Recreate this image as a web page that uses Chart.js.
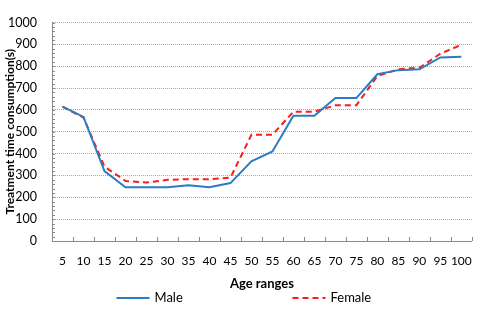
<!DOCTYPE html>
<html>
<head>
<meta charset="utf-8">
<script src="https://cdn.jsdelivr.net/npm/chart.js@4/dist/chart.umd.min.js"></script>
<style>
  html, body { margin: 0; padding: 0; background: #fff; }
  #wrap { width: 485px; height: 311px; }
</style>
</head>
<body>
<div id="wrap"><canvas id="myChart"></canvas></div>
<script>
var ageLabels = ['5','10','15','20','25','30','35','40','45','50','55','60','65','70','75','80','85','90','95','100'];
var maleValues = [615, 568, 320, 246, 246, 246, 255, 246, 265, 365, 410, 573, 573, 654, 654, 763, 782, 786, 840, 843];
var femaleValues = [615, 565, 340, 275, 268, 280, 283, 283, 290, 486, 486, 592, 592, 621, 621, 755, 786, 793, 857, 898];
var yTicks = [0, 100, 200, 300, 400, 500, 600, 700, 800, 900, 1000];

var FONT = "Lato, 'Liberation Sans', sans-serif";

// small inward ticks on the y axis (every 20) and x axis category ticks
var axisTicks = {
    id: 'axisTicks',
    afterDraw: function(chart) {
        var ctx = chart.ctx;
        var y = chart.scales.y, x = chart.scales.x;
        ctx.save();
        ctx.strokeStyle = '#8c8c8c';
        ctx.lineWidth = 1;
        ctx.beginPath();
        for (var v = 0; v <= 1000; v += 20) {
            var py = Math.round(y.getPixelForValue(v)) + 0.5;
            ctx.moveTo(x.left, py);
            ctx.lineTo(x.left + 3, py);
        }
        for (var i = 0; i <= ageLabels.length; i++) {
            var px = Math.round(x.getPixelForValue(i - 0.5)) + 0.5;
            ctx.moveTo(px, y.bottom);
            ctx.lineTo(px, y.bottom - 4);
        }
        ctx.stroke();
        ctx.restore();
    }
};

// legend drawn at the bottom, spread out like the original
var bottomLegend = {
    id: 'bottomLegend',
    afterDraw: function(chart) {
        var ctx = chart.ctx;
        var ly = chart.height - 13;
        var cx = chart.width / 2;
        var items = [
            { ds: chart.data.datasets[0], x: cx - 126 },
            { ds: chart.data.datasets[1], x: cx + 50 }
        ];
        ctx.save();
        ctx.font = '13px ' + FONT;
        ctx.textBaseline = 'middle';
        ctx.fillStyle = '#000';
        items.forEach(function(it) {
            ctx.strokeStyle = it.ds.borderColor;
            ctx.lineWidth = 2;
            ctx.setLineDash(it.ds.borderDash || []);
            ctx.beginPath();
            ctx.moveTo(it.x, ly);
            ctx.lineTo(it.x + 33, ly);
            ctx.stroke();
            ctx.fillText(it.ds.label, it.x + 38, ly);
        });
        ctx.restore();
    }
};

var ctx = document.getElementById('myChart').getContext('2d');
var chart = new Chart(ctx, {
    type: 'line',
    data: {
        labels: ageLabels,
        datasets: [{
            label: 'Male',
            data: maleValues,
            borderColor: '#2a7dc4',
            backgroundColor: '#2a7dc4',
            borderWidth: 2,
            pointRadius: 0,
            tension: 0
        }, {
            label: 'Female',
            data: femaleValues,
            borderColor: '#ff1a1a',
            backgroundColor: '#ff1a1a',
            borderWidth: 2,
            borderDash: [6, 4],
            pointRadius: 0,
            tension: 0
        }]
    },
    plugins: [axisTicks, bottomLegend],
    options: {
        responsive: true,
        maintainAspectRatio: false,
        animation: false,
        layout: { padding: { top: 4, right: 9, left: 0, bottom: 19 } },
        plugins: {
            legend: { display: false },
            tooltip: { enabled: false }
        },
        scales: {
            x: {
                offset: true,
                grid: { display: false, offset: true, drawTicks: false, tickLength: 0 },
                border: { color: '#8c8c8c', width: 1 },
                ticks: { color: '#000', font: { family: FONT, size: 12 }, padding: 13, maxRotation: 0, autoSkip: false },
                title: { display: true, text: 'Age ranges', color: '#000', font: { family: FONT, size: 13, weight: 'bold' }, padding: { top: -5, bottom: 0 } }
            },
            y: {
                min: 0,
                max: 1000,
                afterBuildTicks: function(scale) {
                    scale.ticks = yTicks.map(function(v) { return { value: v }; });
                },
                afterFit: function(scale) { scale.width = 52; },
                grid: { color: '#a6a6a6', tickLength: 0, drawTicks: false },
                border: { color: '#8c8c8c', width: 1, display: true, dash: [1, 1] },
                ticks: { color: '#000', font: { family: FONT, size: 12.5 }, padding: 15,
                    callback: function(v) { return String(v); } },
                title: { display: true, text: 'Treatment time consumption(s)', color: '#000', font: { family: FONT, size: 12, weight: 'bold' }, padding: { top: 3, bottom: 0 } }
            }
        }
    }
});
</script>
</body>
</html>
